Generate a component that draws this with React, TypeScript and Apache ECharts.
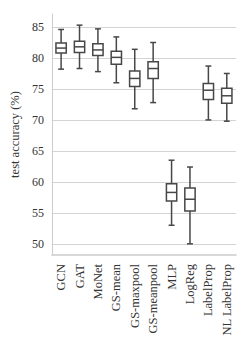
import React, { useEffect, useRef } from "react";
import * as echarts from "echarts";

const categories = [
  "GCN",
  "GAT",
  "MoNet",
  "GS-mean",
  "GS-maxpool",
  "GS-meanpool",
  "MLP",
  "LogReg",
  "LabelProp",
  "NL LabelProp",
];
// per model: lower whisker, Q1, median, Q3, upper whisker
const whiskerLow = [78.2, 78.3, 77.8, 76.0, 71.8, 72.8, 53.0, 50.0, 70.0, 69.8];
const q1 = [80.8, 80.9, 80.4, 79.0, 75.4, 76.7, 56.9, 55.3, 73.3, 72.7];
const median = [81.6, 81.8, 81.3, 80.1, 76.7, 78.3, 58.3, 57.2, 74.8, 73.9];
const q3 = [82.4, 82.7, 82.3, 81.1, 77.9, 79.4, 59.7, 59.0, 75.9, 75.1];
const whiskerHigh = [84.6, 85.3, 84.7, 83.4, 81.4, 82.5, 63.5, 62.4, 78.7, 77.5];

const yMin = 48.2;
const yMax = 87.1;

export default function App() {
  const ref = useRef<HTMLDivElement>(null);
  useEffect(() => {
    document.body.style.margin = "0";
    if (!ref.current) return;
    const chart = echarts.init(ref.current, undefined, { renderer: "svg" });
    const data = categories.map((_, i) => [
      i,
      whiskerLow[i],
      q1[i],
      median[i],
      q3[i],
      whiskerHigh[i],
    ]);
    const stroke = "#474747";
    const font = "'Liberation Serif', serif";
    chart.setOption({
      animation: false,
      grid: { left: 51, right: 14, top: 14, bottom: 96 },
      xAxis: {
        type: "category",
        data: categories,
        boundaryGap: true,
        axisTick: { show: false },
        axisLine: { lineStyle: { color: "#cccccc", width: 1.5 } },
        axisLabel: {
          rotate: 90,
          interval: 0,
          margin: 9,
          color: "#333333",
          fontFamily: font,
          fontSize: 12.5,
        },
        splitLine: { show: false },
      },
      yAxis: {
        type: "value",
        min: yMin,
        max: yMax,
        splitNumber: 8,
        name: "test accuracy (%)",
        nameLocation: "middle",
        nameGap: 22,
        nameTextStyle: { color: "#333333", fontFamily: font, fontSize: 12.5 },
        axisLine: { show: true, lineStyle: { color: "#cccccc", width: 1 } },
        axisTick: { show: false },
        axisLabel: {
          color: "#333333",
          fontFamily: font,
          fontSize: 12,
          margin: 8,
          showMinLabel: false,
          showMaxLabel: false,
          formatter: (v: number) => (Math.abs(v % 5) < 1e-6 ? String(v) : ""),
        },
        splitLine: {
          show: true,
          showMinLine: false,
          showMaxLine: false,
          lineStyle: { color: "#d4d4d4", width: 1.2 },
        },
      },
      series: [
        {
          type: "custom",
          data,
          encode: { x: 0, y: [1, 2, 3, 4, 5] },
          renderItem: (params: any, api: any) => {
            const idx = api.value(0);
            const pLow = api.coord([idx, api.value(1)]);
            const pQ1 = api.coord([idx, api.value(2)]);
            const pMed = api.coord([idx, api.value(3)]);
            const pQ3 = api.coord([idx, api.value(4)]);
            const pHigh = api.coord([idx, api.value(5)]);
            const band = api.size([1, 0])[0];
            const bw = band * 0.56;
            const cw = band * 0.32;
            const x = pMed[0];
            const style = { stroke, lineWidth: 1.5, fill: "none" };
            return {
              type: "group",
              children: [
                { type: "line", shape: { x1: x, y1: pHigh[1], x2: x, y2: pQ3[1] }, style },
                { type: "line", shape: { x1: x, y1: pQ1[1], x2: x, y2: pLow[1] }, style },
                { type: "line", shape: { x1: x - cw / 2, y1: pHigh[1], x2: x + cw / 2, y2: pHigh[1] }, style },
                { type: "line", shape: { x1: x - cw / 2, y1: pLow[1], x2: x + cw / 2, y2: pLow[1] }, style },
                {
                  type: "rect",
                  shape: { x: x - bw / 2, y: pQ3[1], width: bw, height: pQ1[1] - pQ3[1] },
                  style: { stroke, lineWidth: 1.5, fill: "#ffffff" },
                },
                { type: "line", shape: { x1: x - bw / 2, y1: pMed[1], x2: x + bw / 2, y2: pMed[1] }, style },
              ],
            };
          },
        },
      ],
    });
    return () => chart.dispose();
  }, []);
  return <div ref={ref} style={{ width: 250, height: 351 }} />;
}
